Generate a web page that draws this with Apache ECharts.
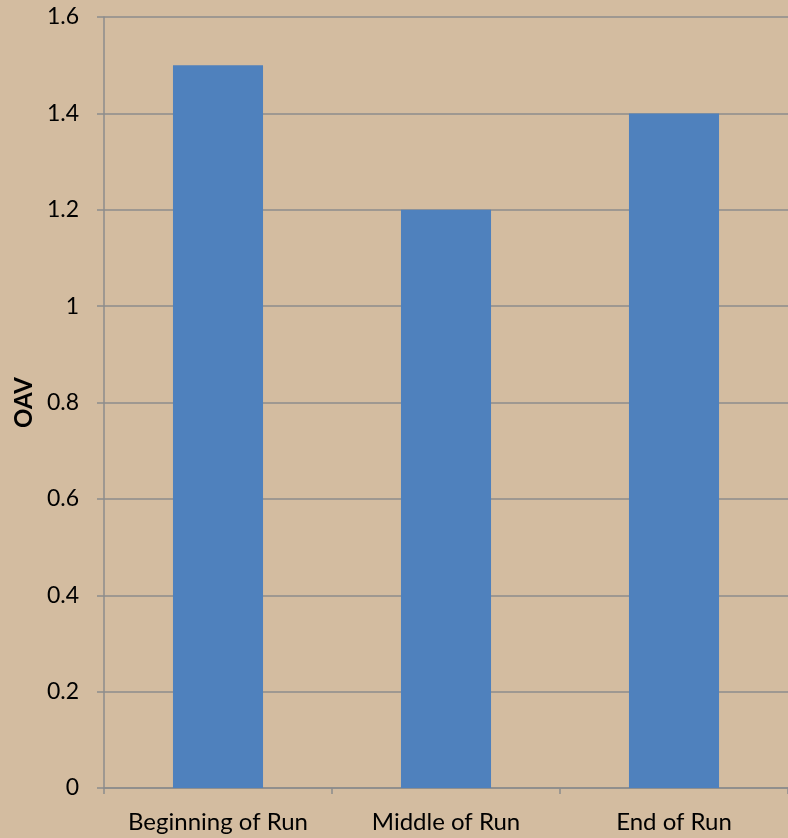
<!DOCTYPE html>
<html>
<head>
<meta charset="utf-8">
<script src="https://cdn.jsdelivr.net/npm/echarts@6/dist/echarts.min.js"></script>
<style>
html,body{margin:0;padding:0;background:#d3bca0;}
#chart{width:788px;height:838px;}
</style>
</head>
<body>
<div id="chart"></div>
<script>
var categories = ['Beginning of Run', 'Middle of Run', 'End of Run'];
var oavValues = [1.5, 1.2, 1.4];
var yTicks = [0, 0.2, 0.4, 0.6, 0.8, 1, 1.2, 1.4, 1.6];
var yAxisName = 'OAV';

var chart = echarts.init(document.getElementById('chart'), null, {renderer: 'canvas'});
chart.setOption({
  backgroundColor: '#d3bca0',
  animation: false,
  textStyle: {fontFamily: 'Lato'},
  grid: {left: 104, right: -3, top: 17, bottom: 50, containLabel: false},
  xAxis: {
    type: 'category',
    data: categories,
    axisLine: {lineStyle: {color: '#8c8c8c', width: 1.5}},
    axisTick: {show: true, length: 6, lineStyle: {color: '#8c8c8c', width: 1.5}},
    axisLabel: {color: '#000', fontSize: 24, fontFamily: 'Lato', margin: 22,
      interval: 0, hideOverlap: false}
  },
  yAxis: {
    type: 'value',
    min: yTicks[0],
    max: yTicks[yTicks.length - 1],
    interval: 0.2,
    name: yAxisName,
    nameLocation: 'middle',
    nameGap: 68,
    nameRotate: 90,
    nameTextStyle: {color: '#000', fontWeight: 'bold', fontSize: 24, fontFamily: 'Lato'},
    axisLine: {show: true, lineStyle: {color: '#8c8c8c', width: 1.5}},
    axisTick: {show: true, length: 7, lineStyle: {color: '#8c8c8c', width: 1.5}},
    axisLabel: {color: '#000', fontSize: 23, fontFamily: 'Lato', margin: 25,
      formatter: function (v) { return String(Math.round(v * 10) / 10); }},
    splitLine: {show: true, lineStyle: {color: '#8c8c8c', width: 1.5}}
  },
  series: [{
    type: 'bar',
    data: oavValues,
    barWidth: '39.5%',
    itemStyle: {color: '#4f81bd'}
  }]
});
</script>
</body>
</html>
